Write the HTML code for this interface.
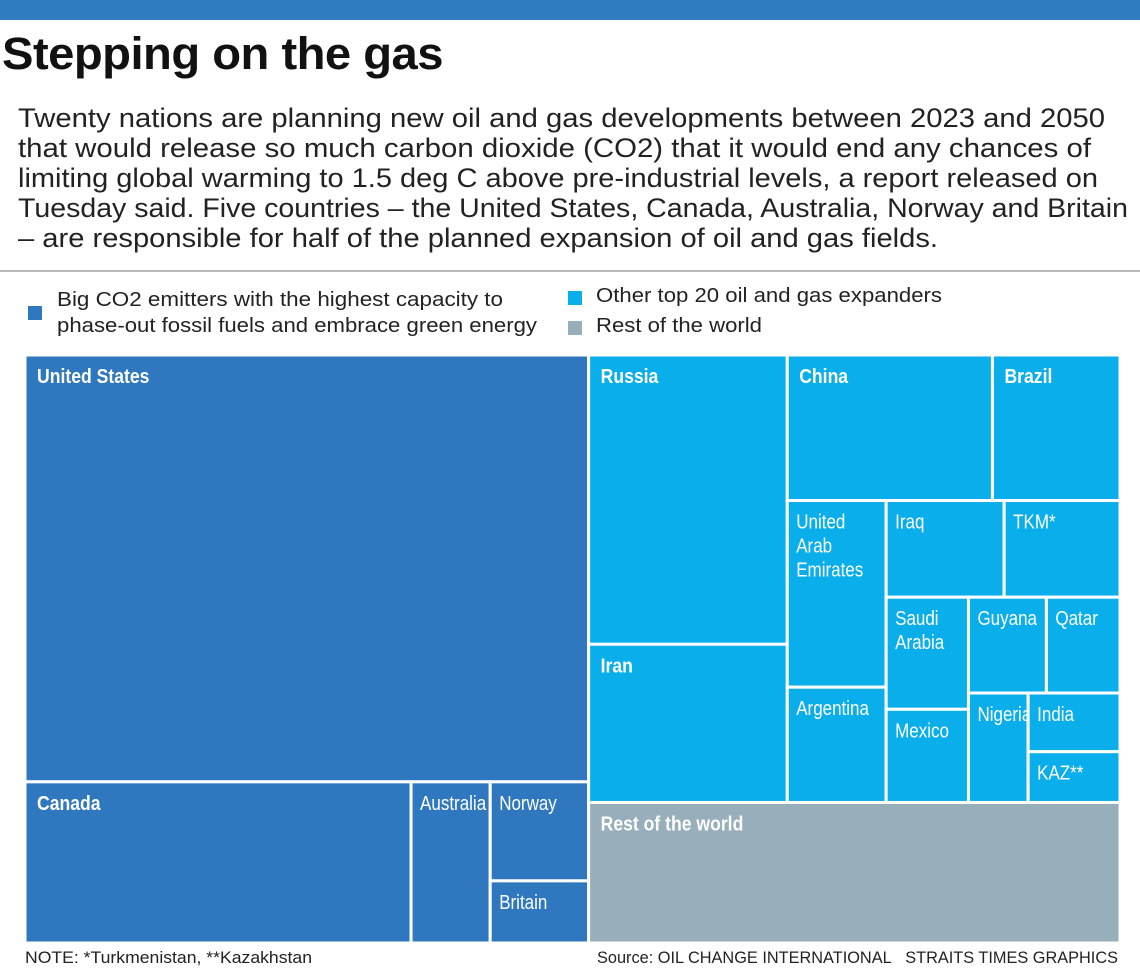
<!DOCTYPE html>
<html><head><meta charset="utf-8">
<style>
body{margin:0;width:1140px;height:976px;background:#fff;font-family:"Liberation Sans",sans-serif;overflow:hidden;position:relative}
.bar{position:absolute;left:0;top:0;width:1140px;height:20px;background:#2f7cc1}
.fit{position:absolute;white-space:nowrap;transform-origin:0 0}
h1{margin:0;font-size:45px;font-weight:bold;color:#111;letter-spacing:-0.5px}
.dl{font-size:27px;color:#222;line-height:30px}
.rule{position:absolute;left:0;top:270px;width:1140px;height:2px;background:#bbb}
.leg{font-size:20px;color:#222}
.sw{position:absolute;width:14px;height:14px}
.foot{font-size:17px;color:#222}
svg{position:absolute;left:0;top:0}
</style></head><body>
<div class="bar"></div>
<h1 class="fit" style="left:2px;top:28px" data-w="441">Stepping on the gas</h1>
<div>
<div class="fit dl" style="left:18px;top:103px" data-w="1087">Twenty nations are planning new oil and gas developments between 2023 and 2050</div>
<div class="fit dl" style="left:18px;top:133px" data-w="1073">that would release so much carbon dioxide (CO2) that it would end any chances of</div>
<div class="fit dl" style="left:18px;top:163px" data-w="1080">limiting global warming to 1.5 deg C above pre-industrial levels, a report released on</div>
<div class="fit dl" style="left:18px;top:193px" data-w="1110">Tuesday said. Five countries – the United States, Canada, Australia, Norway and Britain</div>
<div class="fit dl" style="left:18px;top:223px" data-w="920">– are responsible for half of the planned expansion of oil and gas fields.</div>
</div>
<div class="rule"></div>
<div class="sw" style="left:28px;top:306px;background:#2f78c0"></div>
<div class="fit leg" style="left:57px;top:289px" data-w="446">Big CO2 emitters with the highest capacity to</div>
<div class="fit leg" style="left:57px;top:315px" data-w="480">phase-out fossil fuels and embrace green energy</div>
<div class="sw" style="left:568px;top:291px;background:#0aaeea"></div>
<div class="fit leg" style="left:596px;top:285px" data-w="346">Other top 20 oil and gas expanders</div>
<div class="sw" style="left:568px;top:321px;background:#97aebb"></div>
<div class="fit leg" style="left:596px;top:315px" data-w="166">Rest of the world</div>
<svg id="tm" width="1140" height="976"></svg>
<div class="fit foot" style="left:25px;top:948px" data-w="287">NOTE: *Turkmenistan, **Kazakhstan</div>
<div class="fit foot" style="left:597px;top:948px" data-w="521">Source: OIL CHANGE INTERNATIONAL&nbsp;&nbsp;&nbsp;STRAITS TIMES GRAPHICS</div>
<script>
const names=["United States","Canada","Australia","Norway","Britain","Russia","Iran","China","Brazil","United Arab Emirates","Argentina","Iraq","TKM*","Saudi Arabia","Mexico","Guyana","Qatar","Nigeria","India","KAZ**","Rest of the world"];
const values=[232,60,12.3,9.4,5.9,55.4,30.3,28.8,17.9,17.8,11,11,10.8,8.9,7.4,7.2,6.8,6.3,5.2,4.5,72];
const groups=["big","big","big","big","big","top","top","top","top","top","top","top","top","top","top","top","top","top","top","top","rest"];
const boldSet=["United States","Canada","Russia","Iran","China","Brazil","Rest of the world"];
const colors={big:"#2f78c0",top:"#0aaeea",rest:"#97aebb"};
const tree=["h",[
 ["v",[0,["h",[1,2,["v",[3,4]]]]]],
 ["v",[
   ["h",[["v",[5,6]],["v",[["h",[7,8]],["h",[["v",[9,10]],["v",[["h",[11,12]],["h",[["v",[13,14]],["v",[["h",[15,16]],["h",[17,["v",[18,19]]]]]]]]]]]]]]]],
   20]]]];
function sum(n){return typeof n==="number"?values[n]:n[1].reduce((a,c)=>a+sum(c),0);}
const svg=document.getElementById("tm");
const NS="http://www.w3.org/2000/svg";
function layout(n,x,y,w,h){
 if(typeof n==="number"){draw(n,x,y,w,h);return;}
 const tot=sum(n);let off=0;
 for(const c of n[1]){const f=sum(c)/tot;
  if(n[0]==="h"){layout(c,x+off,y,w*f,h);off+=w*f;}
  else{layout(c,x,y+off,w,h*f);off+=h*f;}}
}
function slug(s){return s.toLowerCase().replace(/[^a-z]+/g,'-').replace(/-+$/,'');}
function draw(i,x,y,w,h){
 const r=document.createElementNS(NS,"rect");
 r.setAttribute("x",x);r.setAttribute("y",y);r.setAttribute("width",w);r.setAttribute("height",h);
 r.setAttribute("fill",colors[groups[i]]);r.setAttribute("stroke","#fff");r.setAttribute("stroke-width","3");
 
 
 svg.appendChild(r);
 const t=document.createElementNS(NS,"text");
 const b=boldSet.includes(names[i]);
 const tx=x+(b?12:9), ty=y+28;
 t.setAttribute("transform","translate("+tx+","+ty+") scale("+(b?0.88:0.85)+",1)");
 t.setAttribute("fill","#fff");
 t.setAttribute("font-family",'"Liberation Sans",sans-serif');
 t.setAttribute("font-size","20");
 if(b)t.setAttribute("font-weight","bold");
 
 
 let lines=[names[i]];
 if(names[i]==="United Arab Emirates")lines=["United","Arab","Emirates"];
 if(names[i]==="Saudi Arabia")lines=["Saudi","Arabia"];
 lines.forEach((l,k)=>{const s=document.createElementNS(NS,"tspan");s.setAttribute("x",0);s.setAttribute("y",k*24);s.textContent=l;t.appendChild(s);});
 svg.appendChild(t);
}
layout(tree,25,355,1095,588);
document.querySelectorAll('.fit').forEach(e=>{const w=e.getBoundingClientRect().width;const tw=+e.getAttribute('data-w');if(w>0&&tw)e.style.transform='scaleX('+(tw/w)+')';});
</script>
</body></html>
